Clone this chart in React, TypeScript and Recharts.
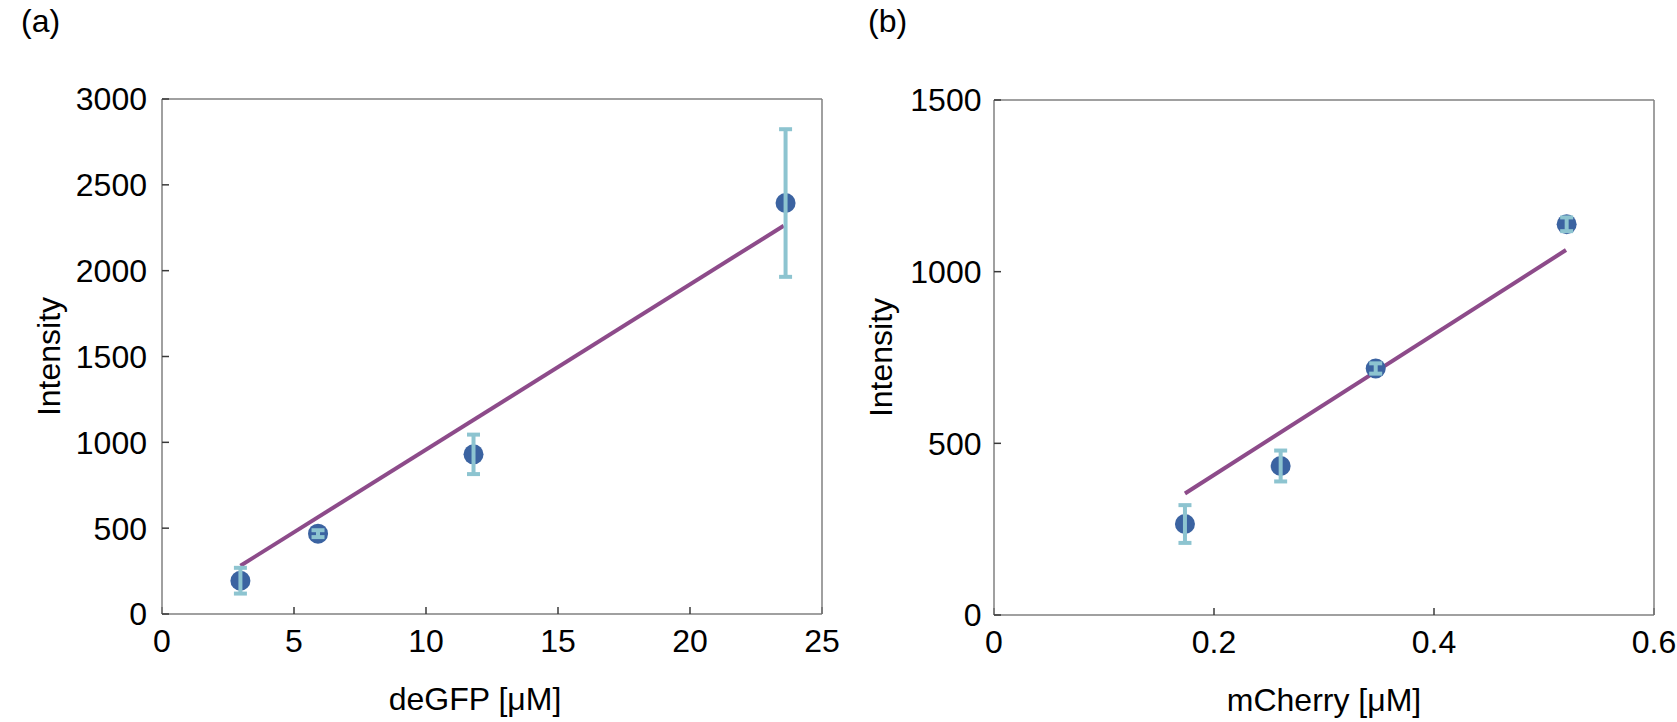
import { ComposedChart, Scatter, XAxis, YAxis, ErrorBar } from 'recharts';

const FONT = '"Liberation Sans", Arial, Helvetica, sans-serif';
const MARKER = '#3b63a1';
const ERR = '#8dc4d0';
const FIT = '#8d4b8a';
const BOX = '#808080';
const TICK = '#3a3a3a';

// (a) deGFP
const gfpConc = [2.97, 5.91, 11.8, 23.62];
const gfpIntensity = [194, 468, 930, 2394];
const gfpError = [75, 20, 115, 430];
const gfpFitConc = [2.97, 23.55];
const gfpFitIntensity = [281, 2262];
const gfpXTicks = [0, 5, 10, 15, 20, 25];
const gfpYTicks = [0, 500, 1000, 1500, 2000, 2500, 3000];

// (b) mCherry
const cherryConc = [0.1736, 0.2606, 0.347, 0.5206];
const cherryIntensity = [265, 434, 718, 1138];
const cherryError = [55, 45, 15, 20];
const cherryFitConc = [0.1736, 0.52];
const cherryFitIntensity = [354, 1063];
const cherryXTicks = [0, 0.2, 0.4, 0.6];
const cherryYTicks = [0, 500, 1000, 1500];

const Dot = (p: any) => <circle cx={p.cx} cy={p.cy} r={10} fill={MARKER} />;
const Nothing = () => <g />;

const yTitle = ({ viewBox }: any) => {
    const x = viewBox.x + viewBox.width - 113;
    const y = viewBox.y + viewBox.height / 2;
    return (
        <text
            x={x}
            y={y}
            transform={`rotate(-90 ${x} ${y})`}
            textAnchor="middle"
            dominantBaseline="central"
            fontSize={32}
            fontFamily={FONT}
            fill="#000"
        >
            Intensity
        </text>
    );
};

const xTitle = (text: string, dx: number) => ({ viewBox }: any) => (
    <text
        x={viewBox.x + viewBox.width / 2 + dx}
        y={viewBox.y + 96}
        textAnchor="middle"
        fontSize={32}
        fontFamily={FONT}
        fill="#000"
    >
        {text}
    </text>
);

interface PanelProps {
    xs: number[];
    ys: number[];
    errs: number[];
    fitX: number[];
    fitY: number[];
    xTicks: number[];
    yTicks: number[];
    xLabel: string;
    labelDx: number;
    yTickMargin: number;
    width: number;
    margin: { top: number; right: number; bottom: number; left: number };
}

function Panel({ xs, ys, errs, fitX, fitY, xTicks, yTicks, xLabel, labelDx, yTickMargin, width, margin }: PanelProps) {
    const points = xs.map((x, i) => ({ x, y: ys[i], err: errs[i] }));
    const fit = fitX.map((x, i) => ({ x, y: fitY[i] }));
    const xDomain = [xTicks[0], xTicks[xTicks.length - 1]];
    const yDomain = [yTicks[0], yTicks[yTicks.length - 1]];
    const axisLine = { stroke: BOX, strokeWidth: 1.5 };
    const tickLine = { stroke: TICK, strokeWidth: 1.5 };
    const tickStyle = { fontSize: 32, fill: '#000', fontFamily: FONT };

    return (
        <ComposedChart width={width} height={722} margin={margin} style={{ fontFamily: FONT }}>
            <XAxis
                type="number"
                dataKey="x"
                domain={xDomain}
                ticks={xTicks}
                height={1}
                tickSize={-7}
                tickMargin={22}
                axisLine={axisLine}
                tickLine={tickLine}
                tick={tickStyle}
                interval={0}
                label={xTitle(xLabel, labelDx)}
            />
            <XAxis
                xAxisId="top"
                orientation="top"
                type="number"
                dataKey="x"
                domain={xDomain}
                ticks={xTicks}
                height={1}
                tickSize={-7}
                axisLine={axisLine}
                tickLine={tickLine}
                tick={false}
            />
            <YAxis
                type="number"
                dataKey="y"
                domain={yDomain}
                ticks={yTicks}
                width={1}
                tickSize={-7}
                tickMargin={yTickMargin}
                axisLine={axisLine}
                tickLine={tickLine}
                tick={tickStyle}
                interval={0}
                label={yTitle}
            />
            <YAxis
                yAxisId="right"
                orientation="right"
                type="number"
                dataKey="y"
                domain={yDomain}
                ticks={yTicks}
                width={1}
                tickSize={-7}
                axisLine={axisLine}
                tickLine={tickLine}
                tick={false}
            />
            <Scatter
                data={fit}
                line={{ stroke: FIT, strokeWidth: 4 }}
                shape={Nothing}
                isAnimationActive={false}
            />
            <Scatter data={points} shape={Dot} isAnimationActive={false} />
            <Scatter data={points} shape={Nothing} isAnimationActive={false}>
                <ErrorBar
                    dataKey="err"
                    direction="y"
                    width={6.5}
                    strokeWidth={4}
                    stroke={ERR}
                    zIndex={2000}
                    isAnimationActive={false}
                />
            </Scatter>
        </ComposedChart>
    );
}

const panelLabel = { position: 'absolute' as const, fontSize: 32, lineHeight: 1, fontFamily: FONT, color: '#000' };

export default function App() {
    return (
        <div style={{ position: 'absolute', left: 0, top: 0, width: 1677, height: 722, background: '#fff' }}>
            <div style={{ position: 'absolute', left: 0, top: 0 }}>
                <Panel
                    xs={gfpConc}
                    ys={gfpIntensity}
                    errs={gfpError}
                    fitX={gfpFitConc}
                    fitY={gfpFitIntensity}
                    xTicks={gfpXTicks}
                    yTicks={gfpYTicks}
                    xLabel="deGFP [μM]"
                    labelDx={-17}
                    yTickMargin={22}
                    width={850}
                    margin={{ top: 98, right: 27, bottom: 107, left: 161 }}
                />
            </div>
            <div style={{ position: 'absolute', left: 830, top: 0 }}>
                <Panel
                    xs={cherryConc}
                    ys={cherryIntensity}
                    errs={cherryError}
                    fitX={cherryFitConc}
                    fitY={cherryFitIntensity}
                    xTicks={cherryXTicks}
                    yTicks={cherryYTicks}
                    xLabel="mCherry [μM]"
                    labelDx={0}
                    yTickMargin={19.5}
                    width={847}
                    margin={{ top: 99, right: 22, bottom: 106, left: 163 }}
                />
            </div>
            <div style={{ ...panelLabel, left: 21, top: 5 }}>(a)</div>
            <div style={{ ...panelLabel, left: 868, top: 5 }}>(b)</div>
        </div>
    );
}
